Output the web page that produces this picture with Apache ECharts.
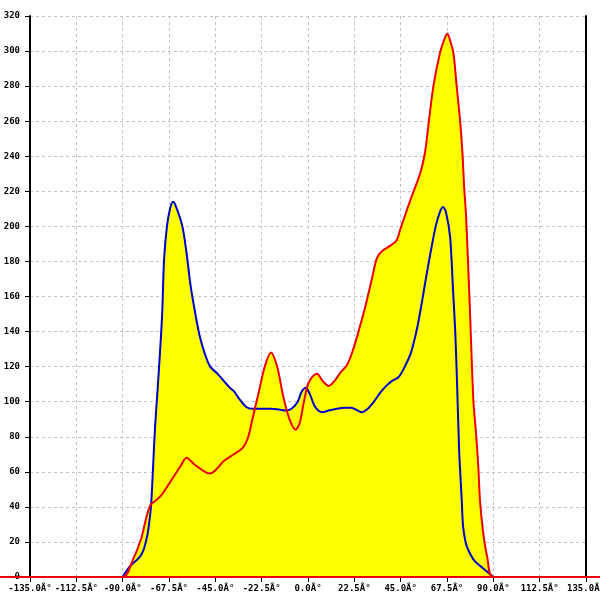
<!DOCTYPE html>
<html><head><meta charset="utf-8">
<script src="https://cdn.jsdelivr.net/npm/echarts@6/dist/echarts.min.js"></script>
<style>html,body{margin:0;padding:0;background:#fff}#c{width:600px;height:600px}</style>
</head><body><div id="c"></div>
<script>
var xTicks = [-135, -112.5, -90, -67.5, -45, -22.5, 0, 22.5, 45, 67.5, 90, 112.5, 135];
var yTicks = [0, 20, 40, 60, 80, 100, 120, 140, 160, 180, 200, 220, 240, 260, 280, 300, 320];

var redSeries = [[-135,0],[-90,0],[-85,10],[-81,22],[-78.5,34],[-76.5,41],[-73.5,44],[-71,47],[-67,54],[-62,63],[-59,68],[-55,64],[-50,60],[-47.5,59],[-44,62],[-41,66],[-36,70],[-31.5,74],[-29,80],[-27,90],[-24,105],[-21,120],[-18,128],[-15,120],[-12,103],[-9,90],[-6,84],[-4,88],[-2,100],[0,110],[2,114],[4.4,116],[7,112],[10,109],[13,112],[16,117],[19,121],[22,130],[25,142],[28,155],[31,170],[33.5,182],[36,186],[40,189],[43,192],[45,199],[50,216],[54.4,230],[56.8,242],[58.8,261],[60.9,280],[64.1,299],[66,306],[67.7,310],[69,306],[70.6,299],[72.2,280],[73.8,261],[75,242],[75.8,223],[76.8,205],[78.7,150],[80.3,101],[81.6,82],[82.7,63],[83.5,44],[85.1,25],[87.1,11],[90,0],[135,0]];

var blueSeries = [[-90,0],[-86.5,6],[-82,11],[-80,15],[-78,24],[-77,32],[-76.2,41],[-75.3,61],[-74.3,85],[-72.8,111],[-70.9,148],[-69.9,181],[-68.5,200],[-67,210],[-65.6,214],[-64,211],[-61,200],[-59,185],[-57,166],[-55,152],[-52.5,137],[-50,127],[-47.5,120],[-44,116],[-41,112],[-38,108],[-36,106],[-33,101],[-30,97],[-27,96],[-24,96],[-18,96],[-14,95.5],[-11,95],[-8,96],[-5,100],[-3,106],[-1,108],[1,104],[3,98],[5,95],[7,94],[10,95],[14,96],[18,96.5],[21,96.5],[24,95],[26,94],[29,96],[32,100],[35,105],[38,109],[41,112],[44,114],[47,120],[50,128],[53,142],[55.5,158],[57.5,172],[59.5,185],[62,200],[64,208],[65.6,211],[67,208],[69,194],[70.5,162],[71.5,140],[72.4,110],[73.4,72],[74.6,45],[75.3,29],[76.5,20],[78,15],[81,9],[85,5],[90,0]];

var chart = echarts.init(document.getElementById('c'));
var font = 'DejaVu Sans Mono';
var sm = 0.3;
chart.setOption({
  animation: false,
  grid: {left: 30, right: 14, top: 16, bottom: 23, containLabel: false, outerBoundsMode: 'none'},
  xAxis: {
    type: 'value', min: xTicks[0], max: xTicks[xTicks.length-1], interval: 22.5,
    axisLine: {onZero: false, lineStyle: {color: '#000', width: 1}},
    axisTick: {show: true, length: 5, lineStyle: {color: '#000'}},
    axisLabel: {fontFamily: font, fontSize: 9, fontWeight: 'bold', color: '#000', margin: 7,
      showMinLabel: true, showMaxLabel: true, hideOverlap: false,
      formatter: function(v){ return v.toFixed(1) + 'Â°'; }},
    splitLine: {show: true, lineStyle: {color: '#c4c4c4', type: [3,3]}}
  },
  yAxis: [{
    type: 'value', min: yTicks[0], max: yTicks[yTicks.length-1], interval: 20,
    axisLine: {show: true, onZero: false, lineStyle: {color: '#000', width: 2}},
    axisTick: {show: true, length: 5, lineStyle: {color: '#000'}},
    axisLabel: {fontFamily: font, fontSize: 9, fontWeight: 'bold', color: '#000', margin: 10},
    splitLine: {show: true, lineStyle: {color: '#c4c4c4', type: [3,3]}}
  }, {
    type: 'value', position: 'right', min: 0, max: 320,
    axisLine: {show: true, onZero: false, lineStyle: {color: '#000', width: 2}},
    axisTick: {show: false}, axisLabel: {show: false}, splitLine: {show: false}
  }],
  series: [
    {type: 'line', data: redSeries, smooth: sm, showSymbol: false, z: 1,
     lineStyle: {width: 0}, areaStyle: {color: '#ffff00', opacity: 1}},
    {type: 'line', data: blueSeries, smooth: sm, showSymbol: false, z: 1,
     lineStyle: {width: 0}, areaStyle: {color: '#ffff00', opacity: 1}},
    {type: 'line', data: blueSeries, smooth: sm, showSymbol: false, z: 3,
     lineStyle: {width: 2, color: '#0000cc'}},
    {type: 'line', data: redSeries, smooth: sm, showSymbol: false, z: 4,
     lineStyle: {width: 2, color: '#ee0000'}}
  ]
});
var y0 = chart.convertToPixel({xAxisIndex: 0, yAxisIndex: 0}, [0, 0])[1];
chart.setOption({graphic: [{type: 'line', z: 100, shape: {x1: 0, y1: y0, x2: 600, y2: y0},
  style: {stroke: '#ee0000', lineWidth: 2}}]});
</script></body></html>
